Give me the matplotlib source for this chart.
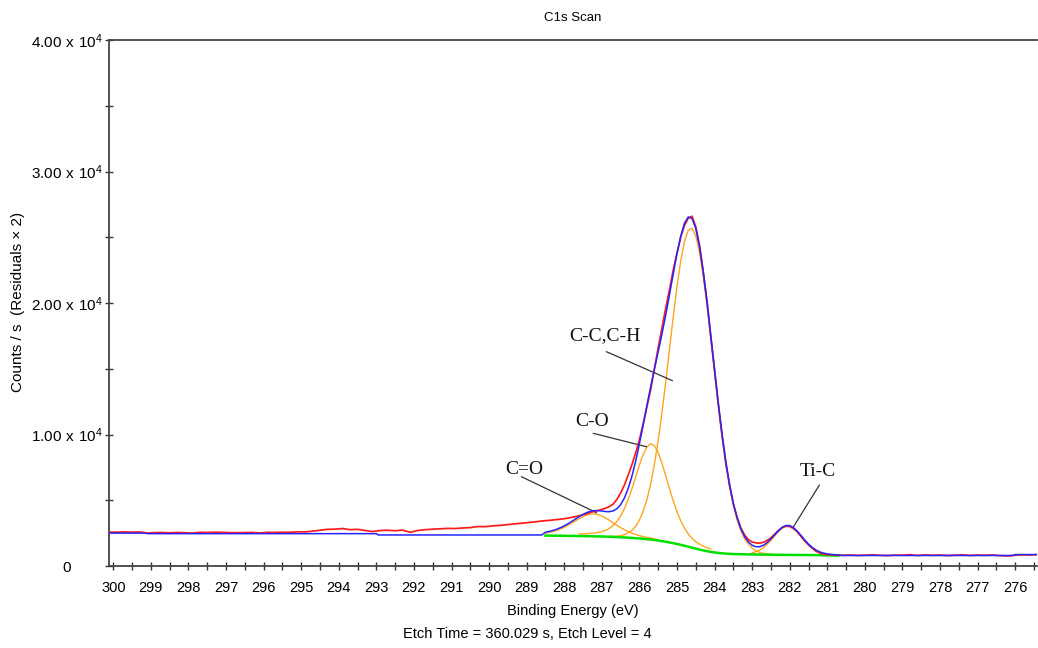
import numpy as np
import matplotlib
matplotlib.use("Agg")
import matplotlib.pyplot as plt
from matplotlib.ticker import MultipleLocator, FuncFormatter

plt.rcParams["font.family"] = ["Liberation Sans", "DejaVu Sans"]
plt.rcParams["mathtext.fontset"] = "custom"
plt.rcParams["mathtext.rm"] = "Liberation Serif"

# measured C1s spectrum (counts/s), three blocks of samples
raw_a = [2580, 2570, 2600, 2570, 2590, 2510, 2540, 2550, 2520, 2550,   # 300.1 -> 298.3 eV, 0.2 eV step
         2530, 2500, 2560, 2550, 2570, 2560, 2540, 2530, 2540, 2550,
         2510, 2560, 2550, 2570, 2560, 2600, 2590, 2650, 2720, 2790,
         2800, 2850, 2760, 2790, 2700, 2620, 2700, 2720, 2680, 2730,
         2560, 2700, 2760, 2800, 2830, 2860, 2850, 2890, 2920, 3000,
         2990, 3050, 3090, 3150, 3210, 3260, 3320, 3380]
raw_b = [3420, 3450, 3470, 3500, 3530, 3560, 3600, 3640, 3700, 3760,   # 288.6 -> 281.0 eV, 0.1 eV step
         3820, 3900, 3980, 4080, 4150, 4220, 4300, 4400, 4520, 4700,
         5050, 5550, 6150, 6900, 7700, 8600, 9600, 10800, 12100, 13400,
         15000, 16600, 18100, 19600, 21000, 22500, 23800, 25000, 25900, 26450,
         26600, 25800, 24400, 22300, 20100, 17400, 14900, 12300, 9900, 7800,
         6100, 4700, 3700, 2900, 2350, 2000, 1830, 1760, 1740, 1800,
         1950, 2150, 2420, 2700, 2930, 3030, 3000, 2850, 2600, 2250,
         1900, 1600, 1350, 1120, 980, 900, 860]
raw_c = [830, 810, 840, 800, 820, 850, 810, 790, 830, 820,   # 280.8 -> 275.4 eV, 0.2 eV step
         860, 800, 840, 810, 830, 790, 820, 850, 800, 830,
         810, 840, 790, 760, 820, 850, 830, 870]

# Shirley background over the fit window, 288.5 -> 280.7 eV in 0.1 eV steps
bg_cps = [2310, 2310, 2305, 2300, 2300, 2295, 2290, 2290, 2285, 2280,
          2275, 2270, 2265, 2255, 2250, 2245, 2235, 2225, 2215, 2200,
          2185, 2170, 2155, 2135, 2115, 2095, 2070, 2040, 2010, 1975,
          1935, 1890, 1845, 1790, 1735, 1675, 1610, 1540, 1465, 1390,
          1320, 1250, 1185, 1125, 1075, 1030, 995, 965, 940, 925,
          910, 900, 895, 890, 885, 880, 875, 870, 866, 862,
          858, 855, 852, 848, 845, 842, 840, 838, 836, 834,
          832, 830, 826, 820, 812, 805, 798, 792, 786]

# fitted components
peak_names = ["C=O", "C-O", "C-C,C-H", "Ti-C"]
peak_pos = [287.22, 285.68, 284.62, 282.05]
peak_height = [1700, 7300, 24300, 2200]
peak_fwhm = [1.30, 1.06, 1.36, 0.90]
peak_lmix = [0.3, 0.3, 0.0, 0.1]
peak_from = [288.5, 287.6, 286.8, 283.0]
peak_to = [285.5, 284.1, 282.5, 281.0]

# envelope outside the fit window
env_left_be = [300.1, 299.15, 299.1, 293.0, 292.95, 288.6]
env_left_cps = [2500, 2500, 2460, 2460, 2360, 2360]
env_right_be = [280.6, 276.05, 276.0, 275.4]
env_right_cps = [800, 800, 870, 870]

# peak labels: text centre, leader line start and end (eV, counts/s)
label_xy = [(289.06, 7340), (287.26, 11010), (286.92, 17490), (281.25, 7170)]
line_from = [(289.14, 6790), (287.23, 10090), (286.88, 16300), (281.21, 6160)]
line_to = [(287.14, 4050), (285.81, 9070), (285.12, 14090), (281.91, 2940)]


def gl(be, pos, height, fwhm, lmix):
    # Gaussian/Lorentzian sum line shape
    u = (be - pos) / fwhm
    g = np.exp(-4 * np.log(2) * u ** 2)
    lor = 1 / (1 + 4 * u ** 2)
    return height * ((1 - lmix) * g + lmix * lor)


raw_be = np.concatenate([
    np.round(300.1 - 0.2 * np.arange(len(raw_a)), 2),
    np.round(288.6 - 0.1 * np.arange(len(raw_b)), 2),
    np.round(280.8 - 0.2 * np.arange(len(raw_c)), 2),
])
raw_cps = np.array(raw_a + raw_b + raw_c, dtype=float)

bg_be = np.round(288.5 - 0.1 * np.arange(len(bg_cps)), 2)
bg = np.array(bg_cps, dtype=float)
comps = [gl(bg_be, p, h, w, m) for p, h, w, m in
         zip(peak_pos, peak_height, peak_fwhm, peak_lmix)]
envelope = bg + np.sum(comps, axis=0)
env_be = np.concatenate([env_left_be, bg_be, env_right_be])
env_cps = np.concatenate([env_left_cps, envelope, env_right_cps])

fig = plt.figure(figsize=(10.38, 6.48), dpi=100)
ax = fig.add_axes([109 / 1038, 82 / 648, 928 / 1038, 526 / 648])

for comp, lo, hi in zip(comps, peak_to, peak_from):
    keep = (bg_be >= lo - 1e-6) & (bg_be <= hi + 1e-6)
    ax.plot(bg_be[keep], (bg + comp)[keep], color="#ffa41c", lw=1.0, zorder=2)
ax.plot(bg_be, bg, color="#00e000", lw=1.8, zorder=3)
ax.plot(raw_be, raw_cps, color="#ff1a1a", lw=1.25, zorder=4)
ax.plot(env_be, env_cps, color="#2424ff", lw=1.1, zorder=5)

for name, txt, a, b in zip(peak_names, label_xy, line_from, line_to):
    ax.text(txt[0], txt[1], name, family="Liberation Serif", fontsize=14,
            ha="center", va="center", color="#111111")
    ax.annotate("", xy=b, xytext=a,
                arrowprops=dict(arrowstyle="-", color="#333333", lw=0.9,
                                shrinkA=0, shrinkB=0))

ax.set_xlim(300.114, 275.42)
ax.set_ylim(0, 40000)

ax.spines["right"].set_visible(False)
for side in ["left", "bottom", "top"]:
    ax.spines[side].set_color("#444444")
    ax.spines[side].set_linewidth(1.3)

ax.xaxis.set_major_locator(MultipleLocator(1))
ax.xaxis.set_minor_locator(MultipleLocator(0.5))
ax.yaxis.set_major_locator(MultipleLocator(10000))
ax.yaxis.set_minor_locator(MultipleLocator(5000))


def y_fmt(v, pos):
    if v == 0:
        return r"$\mathregular{0}$"
    return r"$\mathregular{%.2f\ x\ 10^{4}}$" % (v / 10000)


ax.yaxis.set_major_formatter(FuncFormatter(y_fmt))
ax.tick_params(axis="x", which="both", direction="inout", length=6, width=1,
               color="#333333", labelsize=10.5, pad=8, top=False)
ax.tick_params(axis="y", which="both", direction="inout", length=6, width=1,
               color="#333333", labelsize=11, pad=27)
plt.setp(ax.get_yticklabels(), ha="center")

ax.set_title("C1s Scan", fontsize=9.5, pad=14)
ax.set_xlabel("Binding Energy (eV)", fontsize=10.5, labelpad=6)
fig.text(18 / 1038, 1 - 302 / 648, "Counts / s  (Residuals \u00d7 2)",
         rotation=90, ha="center", va="center", fontsize=11)
fig.text(527 / 1038, 1 - 634 / 648, "Etch Time = 360.029 s, Etch Level = 4",
         ha="center", va="center", fontsize=10.5)

fig.savefig("out.png", dpi=100)
